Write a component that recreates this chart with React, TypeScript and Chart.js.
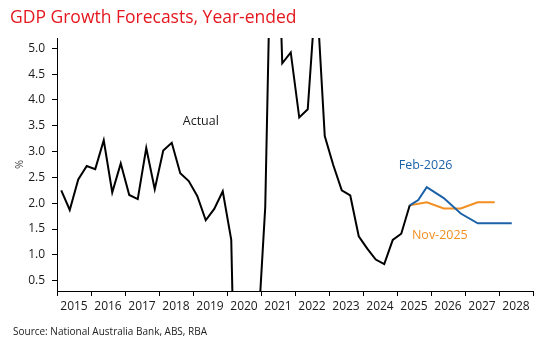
import React, { useEffect, useRef } from "react";
import { Chart, registerables } from "chart.js";

Chart.register(...registerables);

// ---- Data (year-ended GDP growth, %) ----
const startYear = 2015; // first quarter = Mar-2015
const actualGrowth: number[] = [
  2.25, 1.87, 2.46, 2.72, // 2015
  2.66, 3.22, 2.21, 2.77, // 2016
  2.16, 2.08, 3.07, 2.27, // 2017
  3.02, 3.17, 2.58, 2.43, // 2018
  2.14, 1.67, 1.89, 2.23, // 2019
  1.29, -6.3, -3.7, -0.9, // 2020
  1.93, 10.0, 4.71, 4.92, // 2021
  3.66, 3.82, 6.2, 3.3, // 2022
  2.74, 2.25, 2.15, 1.36, // 2023
  1.12, 0.91, 0.82, 1.29, // 2024
  1.41, 1.96, // 2025
];
const forecastStartQuarter = 41; // Jun-2025
const feb2026Forecast: (number | null)[] = [
  1.96, 2.06, 2.31, null, 2.1, null, 1.8, null, 1.61, null, 1.61, null, 1.61,
];
const nov2025Forecast: (number | null)[] = [
  1.96, null, 2.02, null, 1.9, null, 1.9, null, 2.02, null, 2.02,
];
const yearLabels = [2015, 2016, 2017, 2018, 2019, 2020, 2021, 2022, 2023, 2024, 2025, 2026, 2027, 2028];
const yTickValues = [0.5, 1.0, 1.5, 2.0, 2.5, 3.0, 3.5, 4.0, 4.5, 5.0];

const seriesLabels = [
  { text: "Actual", x: 2019.23, y: 3.58, color: "#1a1a1a" },
  { text: "Feb-2026", x: 2025.84, y: 2.73, color: "#1c62a8" },
  { text: "Nov-2025", x: 2026.26, y: 1.38, color: "#f28f22" },
];

const BLUE = "#1c62a8";
const ORANGE = "#f28f22";
const FONT = '"Open Sans", "Noto Sans", sans-serif';

const quarterX = (idx: number) => startYear + idx * 0.25 + 0.125;
const toPoints = (start: number, values: (number | null)[]) =>
  values.map((v, i) => ({ x: quarterX(start + i), y: v }));

const labelPlugin = {
  id: "seriesLabels",
  afterDatasetsDraw(chart: any) {
    const { ctx, scales } = chart;
    ctx.save();
    ctx.font = `12.5px ${FONT}`;
    ctx.textAlign = "center";
    ctx.textBaseline = "middle";
    for (const l of seriesLabels) {
      ctx.fillStyle = l.color;
      ctx.fillText(l.text, scales.x.getPixelForValue(l.x), scales.y.getPixelForValue(l.y));
    }
    ctx.restore();
  },
};

export default function App() {
  const ref = useRef<HTMLCanvasElement>(null);
  useEffect(() => {
    document.body.style.margin = "0";
    const canvas = ref.current!;
    const firstYear = yearLabels[0];
    const lastYear = yearLabels[yearLabels.length - 1] + 1;
    const chart = new Chart(canvas, {
      type: "line",
      data: {
        datasets: [
          {
            label: "Actual",
            data: toPoints(0, actualGrowth) as any,
            borderColor: "#000",
            borderWidth: 2,
            pointRadius: 0,
            tension: 0,
          },
          {
            label: "Feb-2026",
            data: toPoints(forecastStartQuarter, feb2026Forecast) as any,
            borderColor: BLUE,
            borderWidth: 2,
            pointRadius: 0,
            spanGaps: true,
          },
          {
            label: "Nov-2025",
            data: toPoints(forecastStartQuarter, nov2025Forecast) as any,
            borderColor: ORANGE,
            borderWidth: 2,
            pointRadius: 0,
            spanGaps: true,
          },
        ],
      },
      options: {
        responsive: false,
        animation: false,
        devicePixelRatio: 1,
        layout: { padding: { top: 38, right: 17, bottom: 34, left: 0 } },
        plugins: { legend: { display: false }, tooltip: { enabled: false } },
        scales: {
          x: {
            type: "linear",
            min: firstYear,
            max: lastYear,
            afterBuildTicks: (s: any) => {
              const t: any[] = [];
              for (let i = 0; i <= (lastYear - firstYear) * 2; i++) t.push({ value: firstYear + i * 0.5 });
              s.ticks = t;
            },
            afterFit: (s: any) => {
              s.height = 25;
            },
            grid: {
              drawOnChartArea: false,
              drawTicks: true,
              tickLength: 5,
              tickColor: (c: any) => (c.tick && Number.isInteger(c.tick.value) ? "#000" : "rgba(0,0,0,0)"),
            },
            border: { color: "#000", width: 1 },
            ticks: {
              autoSkip: false,
              maxRotation: 0,
              minRotation: 0,
              padding: 3,
              color: "#1a1a1a",
              font: { family: FONT, size: 12 },
              callback: (v: any) => {
                const n = Number(v);
                return Math.abs(n - Math.floor(n) - 0.5) < 1e-6 ? String(Math.floor(n)) : "";
              },
            },
          },
          y: {
            type: "linear",
            min: 0.3,
            max: 5.2,
            afterBuildTicks: (s: any) => {
              s.ticks = yTickValues.map((v) => ({ value: v }));
            },
            afterFit: (s: any) => {
              s.width = 57;
            },
            title: {
              display: true,
              text: "%",
              color: "#444",
              font: { family: FONT, size: 11 },
              padding: { top: 13, bottom: 0 },
            },
            grid: {
              drawOnChartArea: false,
              drawTicks: true,
              tickLength: 5,
              tickColor: "#000",
            },
            border: { color: "#000", width: 1 },
            ticks: {
              padding: 7,
              color: "#1a1a1a",
              font: { family: FONT, size: 12 },
              callback: (v: any) => Number(v).toFixed(1),
            },
          },
        },
      },
      plugins: [labelPlugin],
    });
    return () => chart.destroy();
  }, []);

  return (
    <div style={{ position: "relative", width: 550, height: 350, background: "#fff", fontFamily: FONT }}>
      <canvas ref={ref} width={550} height={350} style={{ position: "absolute", left: 0, top: 0 }} />
      <div
        style={{
          position: "absolute",
          left: 10,
          top: 8,
          fontSize: 17.5,
          lineHeight: "17px",
          fontWeight: 500,
          color: "#e5171f",
          whiteSpace: "nowrap",
        }}
      >
        GDP Growth Forecasts, Year-ended
      </div>
      <div
        style={{
          position: "absolute",
          left: 13,
          top: 326,
          fontSize: 10,
          lineHeight: "10px",
          color: "#222",
          whiteSpace: "nowrap",
        }}
      >
        Source: National Australia Bank, ABS, RBA
      </div>
    </div>
  );
}
